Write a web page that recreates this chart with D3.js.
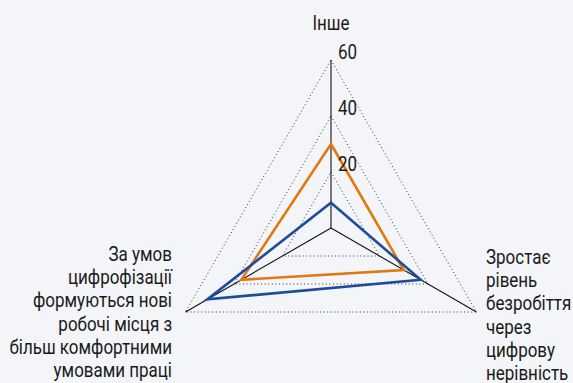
<!DOCTYPE html>
<html>
<head>
<meta charset="utf-8">
<script src="https://cdn.jsdelivr.net/npm/d3@7"></script>
<style>
	html, body { margin: 0; padding: 0; background: #f3f5f8; }
	svg text { font-family: 'Roboto', 'Liberation Sans Narrow', sans-serif; fill: #1a1a1a; }
</style>
</head>
<body>
<div id="chart"></div>
<script>
'use strict';

// axes, clockwise from top
var axes = ['Інше', 'Зростає рівень безробіття через цифрову нерівність',
	'За умов цифрофізації формуються нові робочі місця з більш комфортними умовами праці'];
var axisLines = [
	['Інше'],
	['Зростає', 'рівень', 'безробіття', 'через', 'цифрову', 'нерівність'],
	['За умов', 'цифрофізації', 'формуються нові', 'робочі місця з', 'більш комфортними', 'умовами праці']
];
var blueValues = [9, 37, 51];
var orangeValues = [30, 30, 37];
var ticks = [20, 40, 60];

var width = 573, height = 383,
		cx = 331, cy = 228;

var svg = d3.select('#chart').append('svg')
	.attr('width', width)
	.attr('height', height);

var r = d3.scaleLinear().domain([0, 60]).range([0, 168]);
var angle = d3.scalePoint().domain(d3.range(axes.length)).range([-90, 150]);

function point (i, v)	{
	var a = angle(i) * Math.PI / 180;
	return [cx + r(v) * Math.cos(a), cy + r(v) * Math.sin(a)];
}

var g = svg.append('g');

// dotted grid triangles
ticks.forEach(function (t)	{
	g.append('path')
	 .attr('d', d3.line()(axes.map(function (d, i) { return point(i, t); })) + 'Z')
	 .attr('fill', 'none')
	 .attr('stroke', '#333')
	 .attr('stroke-width', 1)
	 .attr('stroke-dasharray', '1,2.6');
});

// axis spokes
axes.forEach(function (d, i)	{
	var p = point(i, 60);
	g.append('line')
	 .attr('x1', cx).attr('y1', cy)
	 .attr('x2', p[0]).attr('y2', p[1])
	 .attr('stroke', '#111')
	 .attr('stroke-width', 1.1);
});

// series
function series (values, colour)	{
	g.append('path')
	 .attr('d', d3.line()(values.map(function (v, i) { return point(i, v); })) + 'Z')
	 .attr('fill', 'none')
	 .attr('stroke', colour)
	 .attr('stroke-width', 2.6)
	 .attr('stroke-linejoin', 'miter');
}
series(orangeValues, '#e07a10');
series(blueValues, '#1c4c9c');

// tick labels
ticks.forEach(function (t)	{
	svg.append('text')
	 .attr('transform', 'translate(' + (cx + 7) + ',' + (cy - r(t) - 1) + ') scale(0.87,1)')
	 .attr('font-size', 19.5)
	 .text(t);
});

// axis labels
function label (lines, x, y, anchor)	{
	var t = svg.append('text')
		.attr('transform', 'translate(' + x + ',' + y + ') scale(0.87,1)')
		.attr('font-size', 19.5)
		.attr('text-anchor', anchor);
	lines.forEach(function (l, k)	{
		t.append('tspan').attr('x', 0).attr('y', k * 23.2).text(l);
	});
}

label(axisLines[0], cx, 30, 'middle');
label(axisLines[1], 486, 264, 'start');
label(axisLines[2], 172, 261, 'end');
</script>
</body>
</html>
